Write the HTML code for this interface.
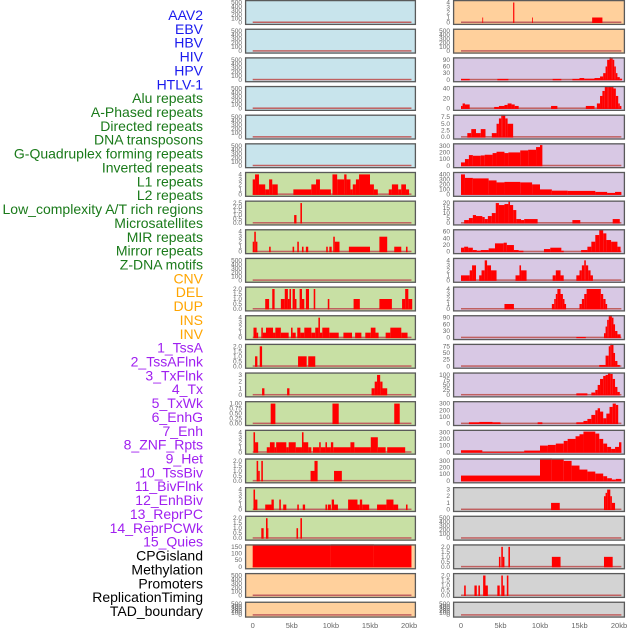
<!DOCTYPE html>
<html><head><meta charset="utf-8"><style>
html,body{margin:0;padding:0;background:#fff;width:630px;height:630px;overflow:hidden}
svg{display:block;font-family:"Liberation Sans",sans-serif}
</style></head><body>
<svg id="chart" width="630" height="630" viewBox="0 0 630 630"></svg>
<script>
// ---- label data ----
const labelNames = ["AAV2","EBV","HBV","HIV","HPV","HTLV-1","Alu repeats","A-Phased repeats","Directed repeats","DNA transposons","G-Quadruplex forming repeats","Inverted repeats","L1 repeats","L2 repeats","Low_complexity A/T rich regions","Microsatellites","MIR repeats","Mirror repeats","Z-DNA motifs","CNV","DEL","DUP","INS","INV","1_TssA","2_TssAFlnk","3_TxFlnk","4_Tx","5_TxWk","6_EnhG","7_Enh","8_ZNF_Rpts","9_Het","10_TssBiv","11_BivFlnk","12_EnhBiv","13_ReprPC","14_ReprPCWk","15_Quies","CPGisland","Methylation","Promoters","ReplicationTiming","TAD_boundary"];
const labelColors = ["#1a1aee","#1a1aee","#1a1aee","#1a1aee","#1a1aee","#1a1aee","#1a7a1a","#1a7a1a","#1a7a1a","#1a7a1a","#1a7a1a","#1a7a1a","#1a7a1a","#1a7a1a","#1a7a1a","#1a7a1a","#1a7a1a","#1a7a1a","#1a7a1a","#ffa500","#ffa500","#ffa500","#ffa500","#ffa500","#a020f0","#a020f0","#a020f0","#a020f0","#a020f0","#a020f0","#a020f0","#a020f0","#a020f0","#a020f0","#a020f0","#a020f0","#a020f0","#a020f0","#a020f0","#000","#000","#000","#000","#000"];
// ---- x ticks ----
const xTickValues = [0,5,10,15,20];
const xTickLabels = ["0","5kb","10kb","15kb","20kb"];
// ---- panel backgrounds ----
const leftColors = ["#c8e4ec","#c8e4ec","#c8e4ec","#c8e4ec","#c8e4ec","#c8e4ec","#c8e0a4","#c8e0a4","#c8e0a4","#c8e0a4","#c8e0a4","#c8e0a4","#c8e0a4","#c8e0a4","#c8e0a4","#c8e0a4","#c8e0a4","#c8e0a4","#c8e0a4","#ffd09c","#ffd09c","#ffd09c"];
const rightColors = ["#ffd09c","#ffd09c","#d8c8e4","#d8c8e4","#d8c8e4","#d8c8e4","#d8c8e4","#d8c8e4","#d8c8e4","#d8c8e4","#d8c8e4","#d8c8e4","#d8c8e4","#d8c8e4","#d8c8e4","#d8c8e4","#d8c8e4","#d3d3d3","#d3d3d3","#d3d3d3","#d3d3d3","#d3d3d3"];
// ---- y tick labels per panel ----
const E = [0,100,200,300,400,500];
const leftTicks = [E,E,E,E,E,E,[0,1,2,3,4],[0,0.5,1,1.5,2,2.5],[0,1,2,3,4],E,[0,0.5,1,1.5,2],[0,1,2,3,4],[0,0.5,1,1.5,2],[0,1,2,3],[0,0.25,0.5,0.75,1],[0,1,2,3,4],[0,0.5,1,1.5,2],[0,1,2,3,4],[0,0.5,1,1.5,2],[0,50,100,150],E,E];
const rightTicks = [[0,1,2,3,4],E,[0,30,60,90],[0,20,40],[0,2.5,5,7.5],[0,100,200,300],[0,100,200,300,400],[0,5,10,15,20],[0,20,40,60],[0,1,2,3,4],[0,1,2,3,4],[0,30,60,90],[0,25,50,75],[0,25,50,75,100],[0,100,200,300],[0,100,200,300],[0,100,200,300],[0,1,2,3],E,[0,0.5,1,1.5,2],[0,0.5,1,1.5,2],E];
// ---- series: [startKb, endKb, value] ----
const L6 = [[0,0.3,3],[0.3,0.8,4],[0.8,1.6,2],[1.6,2.1,1],[2.1,2.5,3],[2.5,3.2,2],[5.2,7.5,1],[7.5,8.1,2],[8.1,8.6,3],[8.6,10,1],[10.2,10.8,4],[10.8,11.7,3],[11.7,12,4],[12,12.5,3],[12.5,12.8,1],[12.8,13.2,2],[13.2,13.6,3],[13.6,15,4],[15,15.5,2],[15.5,16,1],[17.4,17.8,1],[17.8,18.6,2],[18.6,19,1],[19,19.6,2],[19.6,20,1]];
const L7 = [[5.3,5.6,1],[6.1,6.3,2.5]];
const L8 = [[0,0.2,2],[0.2,0.4,4],[0.4,0.6,2],[2.1,2.3,1],[5.1,5.3,1],[5.7,5.9,2],[6.3,6.5,1],[6.8,7.1,1],[9.4,9.6,1],[9.8,10.1,1],[10.3,10.5,3],[10.5,11.1,2],[12.3,15,1],[16.2,17.2,3],[18.1,19,1],[19.6,19.8,1]];
const L9 = [];
const L10 = [[1.6,2.1,1],[2.5,2.8,2],[3.6,4.1,1],[4.1,4.5,2],[4.5,4.7,1],[4.7,4.9,2],[5.1,5.4,2],[5.4,5.6,1],[6,6.3,2],[6.3,6.6,1],[6.8,7.2,2],[7.8,8,2],[9.6,9.8,1],[12.9,13.7,1],[16.2,17.8,1],[19.1,19.5,1],[19.5,19.9,2],[19.9,20.4,1]];
const L11 = [[0.1,0.5,2],[0.5,0.7,1],[1.1,1.3,2],[1.3,1.7,1],[1.7,2.6,2],[2.6,2.9,1],[2.9,3.6,2],[3.6,4.6,1],[4.9,5.1,2],[5.1,5.5,1],[5.7,6.1,2],[6.1,6.6,1],[6.6,7.5,2],[7.5,8,1],[8,8.4,2],[8.4,8.6,4],[8.6,8.9,1],[8.9,9.8,2],[9.8,11,1],[11.6,12.7,1],[13.1,13.9,1],[14.4,15.1,1],[15.1,15.7,2],[15.7,16.1,1],[17,17.6,1],[17.6,19,2],[19,19.8,1]];
const L12 = [[0.3,0.6,1],[0.9,1.2,2],[5.8,6.9,1],[7.1,8,1]];
const L13 = [[1.2,1.5,1],[4.4,4.7,1],[15.2,15.6,1],[15.6,15.9,2],[15.9,16.3,3],[16.3,16.6,2],[16.6,17.2,1]];
const L14 = [[2.3,2.9,1],[10.2,11,1],[18.1,18.8,1]];
const L15 = [[0.1,0.3,4],[0.3,0.7,2],[1.8,2.2,1],[2.2,2.8,2],[2.8,3,1],[3,4.3,2],[4.3,4.6,1],[4.6,5.5,2],[5.5,6.3,1],[6.3,6.5,4],[6.5,7.1,2],[7.1,7.5,1],[7.7,8.5,1],[8.5,8.7,2],[8.7,9.3,1],[9.3,9.5,2],[9.5,10,1],[10,10.3,2],[10.3,12.5,1],[12.5,13,2],[13,15.1,1],[15.1,16,3],[16,17,1],[17.2,19.5,1]];
const L16 = [[0.5,0.7,2],[0.7,0.9,1],[1.1,1.3,2],[7.4,7.9,1],[7.9,8.3,2],[10.4,11.4,1]];
const L17 = [[0.1,0.3,4],[0.3,0.6,2],[1.6,2.4,1],[2.4,2.7,2],[3.4,3.6,2],[3.9,4.3,1],[5.7,5.9,1],[6.4,6.7,1],[9.3,9.5,1],[9.6,10,1],[10.1,10.4,2],[10.4,10.9,1],[12.2,13.4,2],[13.4,13.7,1],[13.7,14,2],[14,14.9,1],[15.9,17.1,1],[17.1,18,2],[18,18.6,1],[19.6,19.8,1]];
const L18 = [[1.1,1.4,1],[1.7,1.9,2],[1.9,2,1],[5.6,5.8,1],[6.1,6.3,2]];
const L19 = [[0,10,160],[10,15.5,172],[15.5,20.3,165]];
const R0 = [[2.7,2.8,1],[6.6,6.75,4],[9.0,9.1,1],[16.6,17.9,1]];
const R2 = [[0,1.1,4],[4.6,6,4],[11.6,12.7,4],[14.1,15,4],[15,15.6,8],[15.6,16.9,5],[16.9,17.6,8],[17.6,18,15],[18,18.3,30],[18.3,18.5,60],[18.5,18.8,90],[18.8,19,105],[19,19.2,100],[19.2,19.4,90],[19.4,19.6,60],[19.6,19.8,30],[19.8,20.1,12],[20.1,20.4,5]];
const R3 = [[0,0.2,5],[0.2,0.5,10],[0.5,1.1,8],[4.2,4.8,3],[4.8,5.5,5],[5.5,5.9,7],[5.9,6.4,10],[6.4,6.8,8],[6.8,7.3,5],[11.4,12.2,5],[15.8,16.9,5],[17.2,17.6,10],[17.6,17.9,25],[17.9,18.2,35],[18.2,18.5,45],[18.5,18.7,55],[18.7,19,58],[19,19.3,50],[19.3,19.6,40],[19.6,19.9,25],[19.9,20.1,10],[20.1,20.3,5]];
const R4 = [[0.8,1.3,1.5],[1.3,1.9,3],[1.9,2.5,1.5],[2.5,3.1,3],[3.9,4.5,1.5],[4.5,4.8,5],[4.8,5.1,7],[5.1,5.3,10.5],[5.3,5.6,9],[5.6,5.9,7],[5.9,6.6,5]];
const R5 = [[0,0.5,50],[0.5,1,100],[1,1.5,160],[1.5,2.5,150],[2.5,3,155],[3,4,165],[4,4.5,190],[4.5,5.5,210],[5.5,6,190],[6,7.5,200],[7.5,8.5,230],[8.5,9.5,240],[9.5,10,280],[10,10.3,310]];
const R6 = [[0,0.5,400],[0.5,1.5,330],[1.5,3.5,320],[3.5,4.5,280],[4.5,5.5,240],[5.5,7.5,250],[7.5,9,240],[9,10,200],[10,11.5,100],[11.5,13.5,75],[13.5,17,70],[17,18.5,50],[18.5,19.5,30],[19.5,20.3,50]];
const R7 = [[0.4,1,3],[1,1.5,5],[1.5,1.9,8],[1.9,2.7,7],[2.7,3,6],[3,3.4,4],[3.4,3.9,7],[3.9,4.4,10],[4.4,4.8,20],[4.8,5.5,18],[5.5,6,19],[6,6.2,23],[6.2,6.6,18],[6.6,7,13],[7,7.6,4],[7.6,8,3],[8,9.7,4],[14.1,15.1,3],[19.2,20.1,4]];
const R8 = [[0,0.4,12],[0.4,0.9,15],[0.9,1.5,12],[1.5,2,5],[2,2.5,3],[2.5,3.5,5],[3.5,4.3,10],[4.3,5.4,25],[5.4,5.8,27],[5.8,6.7,20],[6.7,7.3,5],[7.3,7.9,3],[10.5,11.3,8],[11.3,12.7,12],[12.7,13,3],[15.2,16,5],[16,16.5,15],[16.5,17,30],[17,17.5,50],[17.5,18,65],[18,18.4,55],[18.4,19,35],[19,19.8,30],[19.8,20.2,15]];
const R9 = [[0,1.1,1],[1.1,1.4,2],[1.4,1.9,3],[2.3,2.6,1],[2.6,3,2],[3,3.3,4],[3.3,3.8,3],[3.8,4.5,2],[6.9,7.4,1],[7.4,7.6,3],[7.6,8.3,2],[11.6,12,1],[12,12.6,2],[12.6,13,1],[14.6,15,1],[15,15.3,2],[15.3,15.6,3],[15.6,15.8,4],[15.8,16.1,3],[16.1,16.4,2],[16.4,16.7,1]];
const R10 = [[5.5,6.7,1],[11.5,11.8,1],[11.8,12,2],[12,12.2,3],[12.2,12.6,4],[12.6,12.9,3],[12.9,13.1,2],[13.1,13.3,1],[15,15.3,1],[15.3,15.6,2],[15.6,15.9,3],[15.9,17.7,4],[17.7,18,3],[18,18.3,2],[18.3,18.5,1]];
const R11 = [[14.6,15.8,3],[18.1,18.3,20],[18.3,18.5,50],[18.5,18.7,80],[18.7,19.1,105],[19.1,19.3,90],[19.3,19.5,60],[19.5,19.8,30],[19.8,20.2,15]];
const R12 = [[17.5,18.3,5],[18.3,18.7,40],[18.7,18.9,75],[18.9,19.1,95],[19.1,19.3,80],[19.3,19.5,50],[19.5,19.8,20],[19.8,20.1,5]];
const R13 = [[14.6,16,8],[16.5,17,12],[17,17.3,25],[17.3,17.6,50],[17.6,18,80],[18,18.3,95],[18.3,18.6,100],[18.6,18.9,115],[18.9,19.2,105],[19.2,19.5,80],[19.5,19.8,40],[19.8,20.1,15]];
const R14 = [[1,2.3,20],[2.3,4,25],[4,5,20],[9.7,10.3,20],[14.6,15.5,20],[15.5,16,40],[16,16.5,70],[16.5,17,130],[17,17.3,200],[17.3,17.6,230],[17.6,18,180],[18,18.4,80],[18.4,18.8,150],[18.8,19.2,250],[19.2,19.6,300],[19.6,19.9,280]];
const R15 = [[0,2.7,30],[2.7,8,5],[8,10,25],[10,11,100],[11,12,110],[12,13,130],[13,13.5,170],[13.5,14.5,200],[14.5,15,240],[15,15.5,270],[15.5,17,310],[17,17.5,280],[17.5,18,200],[18,18.5,130],[18.5,19,80],[19,19.5,50],[19.5,20,80],[20,20.3,150]];
const R16 = [[0,10,80],[10,11.5,350],[11.5,13,330],[13,14,300],[14,15,230],[15,16,170],[16,17,140],[17,18,110],[18,18.5,70],[18.5,19.1,40],[19.1,19.6,20],[19.6,20.3,30]];
const R17 = [[11.4,12.5,1],[18.1,18.3,2],[18.3,18.5,2.5],[18.5,18.9,3],[18.9,19.1,2],[19.1,19.5,1]];
const R19 = [[4.8,5,1],[5.1,5.3,2],[5.3,5.5,1],[6,6.2,2],[11.5,12.6,1],[18.1,19.2,1]];
const R20 = [[0.4,0.6,1],[1.7,2,1],[2.2,2.4,1],[2.8,3.1,2],[3.1,3.4,1],[4.6,4.9,1],[5.1,5.3,2],[5.3,5.5,1],[5.8,6,2]];
const leftSeries = [[],[],[],[],[],[],L6,L7,L8,L9,L10,L11,L12,L13,L14,L15,L16,L17,L18,L19,[],[]];
const rightSeries = [R0,[],R2,R3,R4,R5,R6,R7,R8,R9,R10,R11,R12,R13,R14,R15,R16,R17,[],R19,R20,[]];

// ---- layout ----
const NS = "http://www.w3.org/2000/svg";
const svg = document.getElementById("chart");
function mk(tag, attrs, parent){const e=document.createElementNS(NS,tag);for(const k in attrs)e.setAttribute(k,attrs[k]);(parent||svg).appendChild(e);return e;}
const cols = [
  {x0:245, x1:416, zero:252.7, perKb:7.82, colors:leftColors, ticks:leftTicks, series:leftSeries, side:"left"},
  {x0:453, x1:625, zero:461, perKb:7.9, colors:rightColors, ticks:rightTicks, series:rightSeries, side:"right"}
];
const pitch = 28.65;
function rowTop(i){return i*pitch;}
function rowH(i){return i===21?16:25;}
function decimals(arr){let d=0;arr.forEach(v=>{const s=String(v);if(s.includes('.'))d=Math.max(d,s.split('.')[1].length);});return d;}

// labels
labelNames.forEach((n,i)=>{
  const t = mk("text",{x:203,y:15+i*13.86+5,"text-anchor":"end","font-size":"14",fill:labelColors[i]});
  t.textContent = n;
  
  
});

cols.forEach(c=>{
  const xs = kb => c.zero + kb*c.perKb;
  for(let i=0;i<22;i++){
    const top = rowTop(i), h = rowH(i);
    const g = mk("g",{});
    
    
    mk("rect",{x:c.x0,y:top,width:c.x1-c.x0,height:h,fill:c.colors[i]},g);
    const ticks = c.ticks[i];
    const ymax = ticks[ticks.length-1];
    const yb = top+h-2.5, yt = top+2.5;
    const ys = v => yb - (v/ymax)*(yb-yt);
    const clip = mk("clipPath",{id:"cp"+c.side+i},g);
    mk("rect",{x:c.x0,y:top,width:c.x1-c.x0,height:h},clip);
    const bars = mk("g",{"clip-path":"url(#cp"+c.side+i+")"},g);
    const bl = mk("rect",{x:xs(0),y:yb-1,width:xs(20.3)-xs(0),height:1.5,fill:"#c06060"},bars);
    
    
    c.series[i].forEach(s=>{
      const y = ys(s[2]);
      const r = mk("rect",{x:xs(s[0]),y:y,width:Math.max(0.8,xs(s[1])-xs(s[0])),height:yb-y+0.5,fill:"#ff0000"},bars);
      
      
    });
    mk("rect",{x:c.x0+0.6,y:top+0.6,width:c.x1-c.x0-1.2,height:h-1.2,fill:"none",stroke:"#5a5a5a","stroke-width":"1.3"},g);
    const d = decimals(ticks);
    ticks.forEach(v=>{
      const t = mk("text",{x:c.x0-3,y:ys(v)+2,"text-anchor":"end","font-size":"6.5",fill:"#666"},g);
      t.textContent = v.toFixed(d);
      
      
    });
  }
  xTickValues.forEach((v,k)=>{
    const t = mk("text",{x:xs(v),y:628,"text-anchor":"middle","font-size":"7.5",fill:"#666"});
    t.textContent = xTickLabels[k];
    
    
  });
});
</script>
</body></html>
